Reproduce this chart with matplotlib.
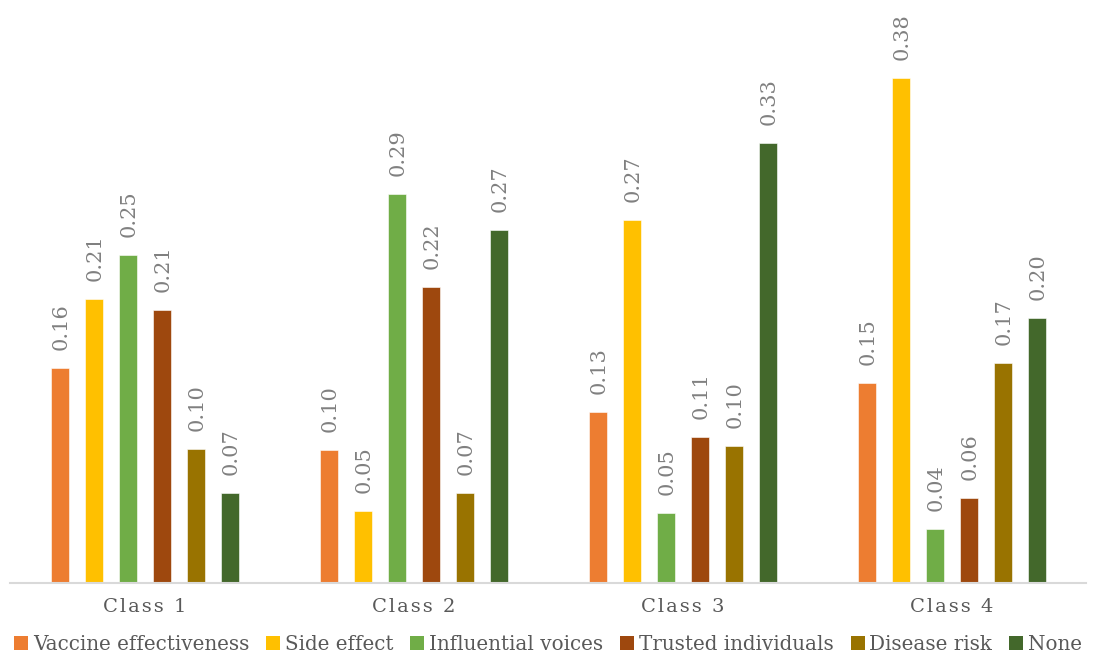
import matplotlib.pyplot as plt
import matplotlib as mpl
from matplotlib.patches import Patch
import numpy as np

mpl.rcParams.update({
    'font.family': 'DejaVu Serif',
    'figure.dpi': 100,
})

classes = ['Class 1', 'Class 2', 'Class 3', 'Class 4']
series = ['Vaccine effectiveness', 'Side effect', 'Influential voices',
          'Trusted individuals', 'Disease risk', 'None']

# share of respondents per class, one list per factor
vaccine = [0.162, 0.100, 0.129, 0.151]
side = [0.214, 0.054, 0.274, 0.381]
influential = [0.247, 0.293, 0.053, 0.041]
trusted = [0.206, 0.223, 0.110, 0.064]
disease = [0.101, 0.068, 0.103, 0.166]
none = [0.068, 0.266, 0.332, 0.200]

values = [vaccine, side, influential, trusted, disease, none]
colors = ['#ED7D31', '#FFC000', '#70AD47', '#9E480E', '#997300', '#43682B']

fig = plt.figure(figsize=(10.96, 6.55))
ax = fig.add_axes([10/1096, 1 - 583/655, 1076/1096, 557/655])

x = np.arange(len(classes))
pitch = 34/269.
width = 18/269.
for i, (vals, c) in enumerate(zip(values, colors)):
    pos = x + (i - 2.5)*pitch
    bars = ax.bar(pos, vals, width=width, color=c, edgecolor='white', linewidth=0.4)
    for b, v in zip(bars, vals):
        ax.annotate('%.2f' % v, (b.get_x() + b.get_width()/2, v),
                    xytext=(1.5, 13), textcoords='offset points',
                    rotation=90, ha='center', va='bottom',
                    fontsize=15, color='#808080', annotation_clip=False)

ax.set_xlim(-0.5, 3.5)
ax.set_ylim(0, 0.42)
ax.yaxis.set_visible(False)
for s in ['top', 'right', 'left']:
    ax.spines[s].set_visible(False)
ax.spines['bottom'].set_color('#d9d9d9')
ax.spines['bottom'].set_linewidth(1.5)

# spread out the category names a little
spaced = ['\u200a'.join(list(c)) for c in classes]
ax.set_xticks(x)
ax.set_xticklabels(spaced, fontsize=14, color='#595959')
ax.tick_params(axis='x', length=0, pad=11)

handles = [Patch(facecolor=c, edgecolor='none') for c in colors]
fig.legend(handles, series, loc='center', bbox_to_anchor=(0.5, 1 - 644/655),
           ncol=6, frameon=False, fontsize=14.3, labelcolor='#595959',
           handlelength=0.7, handleheight=0.7, handletextpad=0.25,
           columnspacing=0.85, borderaxespad=0)

fig.savefig('out.png', dpi=100)
